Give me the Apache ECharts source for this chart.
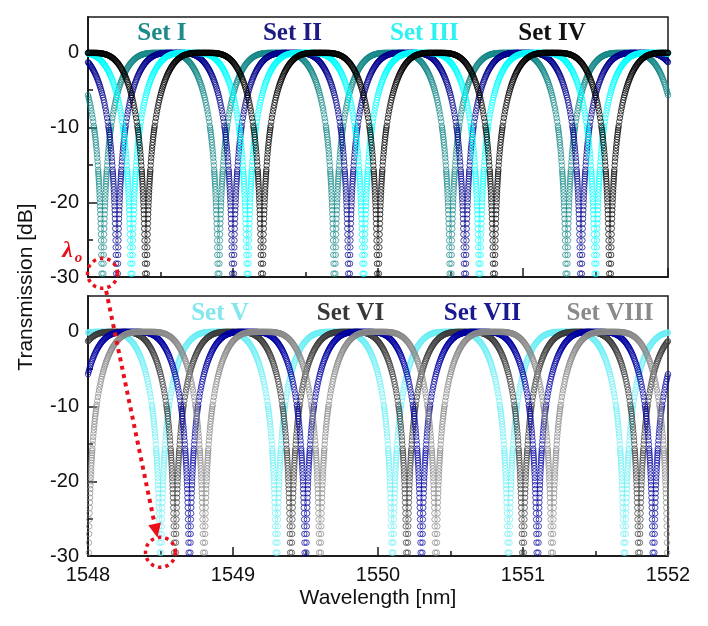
<!DOCTYPE html>
<html>
<head>
<meta charset="utf-8">
<title>Transmission spectra</title>
<script src="https://cdn.jsdelivr.net/npm/echarts@6/dist/echarts.min.js"></script>
<style>
html, body { margin: 0; padding: 0; background: #fff; }
#main { width: 708px; height: 626px; }
</style>
</head>
<body>
<div id="main"></div>
<script>
// notch (minimum) wavelengths, nm
var notchSet1 = [1547.30, 1548.10, 1548.90, 1549.70, 1550.50, 1551.30, 1552.10];
var notchSet2 = [1547.40, 1548.20, 1549.00, 1549.80, 1550.60, 1551.40, 1552.20];
var notchSet3 = [1547.50, 1548.30, 1549.10, 1549.90, 1550.70, 1551.50, 1552.30];
var notchSet4 = [1547.60, 1548.40, 1549.20, 1550.00, 1550.80, 1551.60, 1552.40];
var notchSet5 = [1547.70, 1548.50, 1549.30, 1550.10, 1550.90, 1551.70, 1552.50];
var notchSet6 = [1547.80, 1548.60, 1549.40, 1550.20, 1551.00, 1551.80, 1552.60];
var notchSet7 = [1547.90, 1548.70, 1549.50, 1550.30, 1551.10, 1551.90, 1552.70];
var notchSet8 = [1547.20, 1548.00, 1548.80, 1549.60, 1550.40, 1551.20, 1552.00];

// one notch, read as distance from the minimum (nm) -> transmission (dB)
var profileOffset = [
    0.006, 0.007, 0.008, 0.009, 0.010, 0.011, 0.012, 0.013, 0.014, 0.015, 0.016, 0.017, 0.018,
    0.019, 0.020, 0.021, 0.022, 0.023, 0.024, 0.025, 0.026, 0.027, 0.028, 0.029, 0.030,
    0.032, 0.034, 0.036, 0.038, 0.040, 0.042, 0.044, 0.046, 0.048, 0.050, 0.052, 0.054, 0.056, 0.058, 0.060,
    0.064, 0.068, 0.072, 0.076, 0.080, 0.084, 0.088, 0.092, 0.096, 0.100,
    0.104, 0.108, 0.112, 0.116, 0.120, 0.124, 0.128, 0.132, 0.136, 0.140,
    0.144, 0.148, 0.152, 0.156, 0.160, 0.164, 0.168, 0.172, 0.176, 0.180,
    0.184, 0.188, 0.192, 0.196, 0.200, 0.204, 0.208, 0.212, 0.216, 0.220,
    0.224, 0.228, 0.232, 0.236, 0.240, 0.244, 0.248, 0.252, 0.256, 0.260,
    0.264, 0.268, 0.272, 0.276, 0.280, 0.284, 0.288, 0.292, 0.296, 0.300,
    0.304, 0.308, 0.312, 0.316, 0.320, 0.324, 0.328, 0.332, 0.336, 0.340,
    0.344, 0.348, 0.352, 0.356, 0.360, 0.364, 0.368, 0.372, 0.376, 0.380,
    0.384, 0.388, 0.392, 0.396, 0.400
];
var profileDb = [
    -29.55, -28.21, -27.05, -26.03, -25.11, -24.29, -23.53, -22.84, -22.20, -21.60, -21.04, -20.52, -20.02,
    -19.55, -19.11, -18.69, -18.29, -17.90, -17.54, -17.18, -16.85, -16.52, -16.21, -15.91, -15.62,
    -15.06, -14.54, -14.05, -13.59, -13.16, -12.74, -12.35, -11.97, -11.61, -11.27, -10.94, -10.62, -10.32, -10.03, -9.75,
    -9.21, -8.72, -8.25, -7.81, -7.40, -7.02, -6.65, -6.30, -5.97, -5.66,
    -5.37, -5.09, -4.82, -4.56, -4.32, -4.09, -3.87, -3.66, -3.46, -3.27,
    -3.08, -2.91, -2.74, -2.58, -2.43, -2.28, -2.15, -2.01, -1.89, -1.77,
    -1.65, -1.54, -1.44, -1.34, -1.25, -1.16, -1.08, -1.00, -0.92, -0.85,
    -0.78, -0.72, -0.66, -0.60, -0.55, -0.50, -0.46, -0.41, -0.37, -0.34,
    -0.30, -0.27, -0.24, -0.21, -0.19, -0.17, -0.15, -0.13, -0.11, -0.09,
    -0.08, -0.07, -0.06, -0.05, -0.04, -0.03, -0.03, -0.02, -0.02, -0.01,
    -0.01, -0.01, -0.01, 0, 0, 0, 0, 0, 0, 0,
    0, 0, 0, 0, 0
];

var setNames = ['Set I', 'Set II', 'Set III', 'Set IV', 'Set V', 'Set VI', 'Set VII', 'Set VIII'];
var xMajorTicks = [1548, 1549, 1550, 1551, 1552];
var xMinorTicks = [1548.5, 1549.5, 1550.5, 1551.5];
var yMajorTicks = [-30, -20, -10, 0];
var yMinorTicks = [-25, -15, -5];
// the two marked minima (lambda_o)
var lambda0Top = [1548.10, -29.5];
var lambda0Bottom = [1548.50, -29.5];

var sets = [
    {notches: notchSet1, color: '#148787', label: '#1f8a8a', grid: 0, at: [1548.51, 2.6]},
    {notches: notchSet2, color: '#00008b', label: '#1b1b82', grid: 0, at: [1549.41, 2.6]},
    {notches: notchSet3, color: '#00ffff', label: '#2ef2f2', grid: 0, at: [1550.32, 2.6]},
    {notches: notchSet4, color: '#000000', label: '#111111', grid: 0, at: [1551.20, 2.6]},
    {notches: notchSet5, color: '#6aeef4', label: '#80e8ee', grid: 1, at: [1548.91, 2.5]},
    {notches: notchSet6, color: '#3a3a3a', label: '#383838', grid: 1, at: [1549.81, 2.5]},
    {notches: notchSet7, color: '#0000a0', label: '#1a1a90', grid: 1, at: [1550.72, 2.5]},
    {notches: notchSet8, color: '#888888', label: '#8a8a8a', grid: 1, at: [1551.60, 2.5]}
];

function buildSet(notches) {
    var pts = [];
    notches.forEach(function (c) {
        for (var i = 0; i < profileOffset.length; i++) {
            pts.push([c - profileOffset[i], profileDb[i]]);
            pts.push([c + profileOffset[i], profileDb[i]]);
        }
    });
    return pts;
}

var AX = '#1a1a1a';
var FONT = 'Liberation Sans, Arial, sans-serif';

function xAxisOf(grid, ticks, len, labels) {
    return {
        type: 'value', gridIndex: grid, position: 'bottom', min: 1548, max: 1552,
        axisLine: {show: true, onZero: false, lineStyle: {color: AX, width: 1.5}},
        axisTick: {show: true, inside: true, length: len, customValues: ticks, lineStyle: {color: AX, width: 1.5}},
        axisLabel: {
            show: labels, customValues: xMajorTicks, margin: 9, color: '#111', fontSize: 20, fontFamily: FONT,
            formatter: function (v) { return String(v); }
        },
        splitLine: {show: false}
    };
}
function yAxisOf(grid, ticks, len, labels) {
    return {
        type: 'value', gridIndex: grid, position: 'left', min: -30, max: 4.8,
        axisLine: {show: true, onZero: false, lineStyle: {color: AX, width: 1.5}},
        axisTick: {show: true, inside: true, length: len, customValues: ticks, lineStyle: {color: AX, width: 1.5}},
        axisLabel: {
            show: labels, customValues: yMajorTicks, margin: 9, color: '#111', fontSize: 20, fontFamily: FONT,
            formatter: function (v) { return String(v); }
        },
        splitLine: {show: false}
    };
}

var series = sets.map(function (s, i) {
    return {
        name: setNames[i],
        type: 'scatter',
        xAxisIndex: s.grid * 2,
        yAxisIndex: s.grid * 2,
        symbol: 'circle',
        symbolSize: 5.5,
        silent: true,
        clip: true,
        progressive: 0,
        itemStyle: {color: 'rgba(0,0,0,0)', borderColor: s.color, borderWidth: 0.9},
        data: buildSet(s.notches)
    };
});

var chart = echarts.init(document.getElementById('main'));
chart.setOption({
    animation: false,
    backgroundColor: '#fff',
    grid: [
        {left: 88, top: 17, width: 580, height: 260, show: true, borderColor: AX, borderWidth: 1.5},
        {left: 88, top: 296, width: 580, height: 260, show: true, borderColor: AX, borderWidth: 1.5}
    ],
    xAxis: [
        xAxisOf(0, xMajorTicks, 9, false),
        xAxisOf(0, xMinorTicks, 5, false),
        xAxisOf(1, xMajorTicks, 9, true),
        xAxisOf(1, xMinorTicks, 5, false)
    ],
    yAxis: [
        yAxisOf(0, yMajorTicks, 9, true),
        yAxisOf(0, yMinorTicks, 5, false),
        yAxisOf(1, yMajorTicks, 9, true),
        yAxisOf(1, yMinorTicks, 5, false)
    ],
    series: series
});

// annotations placed from data coordinates
var RED = '#e8101c';
var graphics = [];
sets.forEach(function (s, i) {
    var p = chart.convertToPixel({gridIndex: s.grid}, s.at);
    graphics.push({
        type: 'text', x: p[0], y: p[1], z: 20,
        style: {
            text: setNames[i], fill: s.label,
            font: 'bold 25px "Liberation Serif", "Times New Roman", serif',
            align: 'center', verticalAlign: 'middle', textAlign: 'center', textVerticalAlign: 'middle',
            shadowBlur: 3, shadowColor: 'rgba(0,0,0,0.35)', shadowOffsetX: 1, shadowOffsetY: 1
        }
    });
});

var pa = chart.convertToPixel({gridIndex: 0}, lambda0Top);
var pb = chart.convertToPixel({gridIndex: 1}, lambda0Bottom);
var R = 15;
var dx = pb[0] - pa[0], dy = pb[1] - pa[1];
var dl = Math.sqrt(dx * dx + dy * dy);
var ux = dx / dl, uy = dy / dl;
var tip = [pb[0] - ux * R, pb[1] - uy * R];
var headLen = 14, headW = 6.5;
var base = [tip[0] - ux * headLen, tip[1] - uy * headLen];

[pa, pb].forEach(function (p) {
    graphics.push({
        type: 'circle', z: 30, shape: {cx: p[0], cy: p[1], r: R},
        style: {fill: 'none', stroke: RED, lineWidth: 3.5, lineDash: [3.5, 4]}
    });
});
graphics.push({
    type: 'line', z: 30,
    shape: {x1: pa[0] + ux * (R + 3), y1: pa[1] + uy * (R + 3), x2: base[0], y2: base[1]},
    style: {stroke: RED, lineWidth: 4, lineDash: [4, 4.5]}
});
graphics.push({
    type: 'polygon', z: 30,
    shape: {points: [tip, [base[0] - uy * headW, base[1] + ux * headW], [base[0] + uy * headW, base[1] - ux * headW]]},
    style: {fill: RED}
});
graphics.push({
    type: 'text', x: pa[0] - 35, y: pa[1] - 22, z: 30,
    style: {
        text: 'λ', fill: RED, font: 'italic bold 24px "Liberation Serif", serif',
        align: 'center', verticalAlign: 'middle', textAlign: 'center', textVerticalAlign: 'middle'
    }
});
graphics.push({
    type: 'text', x: pa[0] - 24, y: pa[1] - 15, z: 30,
    style: {
        text: 'o', fill: RED, font: 'italic bold 15px "Liberation Serif", serif',
        align: 'center', verticalAlign: 'middle', textAlign: 'center', textVerticalAlign: 'middle'
    }
});
// axis names
graphics.push({
    type: 'text', x: 26, y: 287, rotation: Math.PI / 2, z: 20,
    style: {
        text: 'Transmission [dB]', fill: '#111', font: '21px ' + FONT,
        align: 'center', verticalAlign: 'middle', textAlign: 'center', textVerticalAlign: 'middle'
    }
});
graphics.push({
    type: 'text', x: 378, y: 598, z: 20,
    style: {
        text: 'Wavelength [nm]', fill: '#111', font: '21px ' + FONT,
        align: 'center', verticalAlign: 'middle', textAlign: 'center', textVerticalAlign: 'middle'
    }
});

chart.setOption({graphic: graphics});
</script>
</body>
</html>
